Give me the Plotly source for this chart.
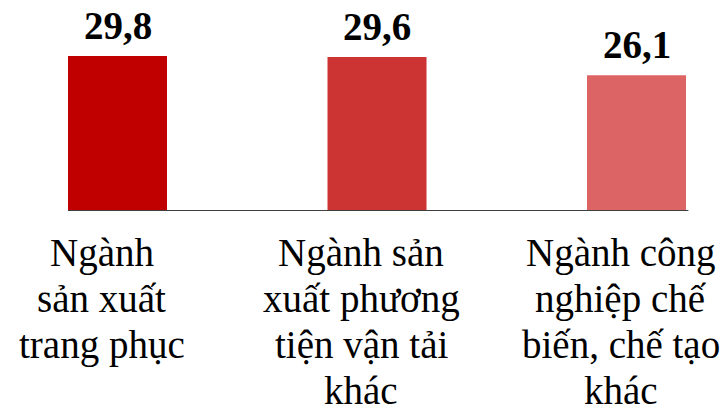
import plotly.graph_objects as go

categories = ["Ngành sản xuất trang phục",
              "Ngành sản xuất phương tiện vận tải khác",
              "Ngành công nghiệp chế biến, chế tạo khác"]
category_lines = [["Ngành", "sản xuất", "trang phục"],
                  ["Ngành sản", "xuất phương", "tiện vận tải", "khác"],
                  ["Ngành công", "nghiệp chế", "biến, chế tạo", "khác"]]
values = [29.8, 29.6, 26.1]
value_labels = ["29,8", "29,6", "26,1"]
colors = ["#C00000", "#CC3333", "#DC6464"]

SERIF = "Liberation Serif"

xpos = list(range(len(categories)))

fig = go.Figure()
fig.add_trace(go.Bar(x=xpos, y=values, width=0.3815, marker=dict(color=colors, line=dict(width=0)),
                     hoverinfo="skip", showlegend=False))

annotations = []
for i, v in enumerate(values):
    annotations.append(dict(x=xpos[i], y=v, xref="x", yref="y", text="<b>" + value_labels[i] + "</b>",
                            showarrow=False, yanchor="bottom", yshift=7,
                            font=dict(family=SERIF, size=39, color="#000000")))
    for j, line in enumerate(category_lines[i]):
        annotations.append(dict(x=xpos[i], y=0, xref="x", yref="y", text=line, showarrow=False,
                                yanchor="top", yshift=-18 - 46 * j, xshift=-16,
                                font=dict(family=SERIF, size=39, color="#000000")))

fig.add_shape(type="line", xref="x", yref="y", x0=-0.19, x1=2.2, y0=0, y1=0,
              line=dict(color="#404040", width=2))

fig.update_layout(width=723, height=407, margin=dict(l=0, r=0, t=0, b=196),
                  paper_bgcolor="white", plot_bgcolor="white",
                  font=dict(family=SERIF),
                  xaxis=dict(visible=False, range=[-0.4528, 2.3333]),
                  yaxis=dict(visible=False, range=[0, 40.57]),
                  annotations=annotations)
fig.write_html("out.html", config={"displayModeBar": False},
               post_script="document.body.style.margin='0';")
